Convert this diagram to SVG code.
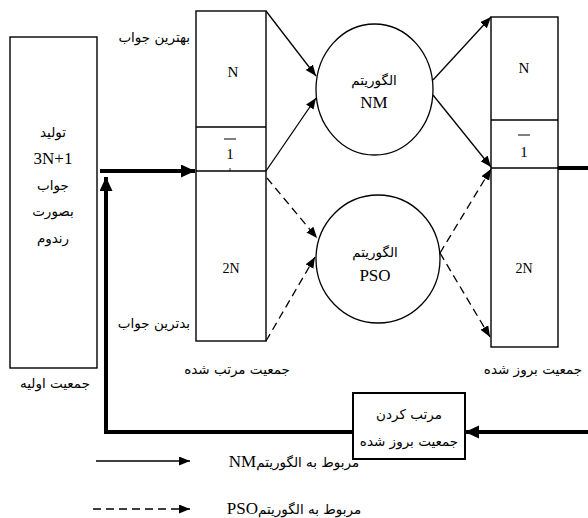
<svg xmlns="http://www.w3.org/2000/svg" width="588" height="518" viewBox="0 0 588 518">
<style>
.box{fill:#fff;stroke:#000;stroke-width:1.4}
.thin{fill:none;stroke:#000;stroke-width:1.3}
.dash{fill:none;stroke:#000;stroke-width:1.3;stroke-dasharray:8 5}
.thick{fill:none;stroke:#000;stroke-width:4}
text{fill:#000}
.lat{font-family:"Liberation Serif","Times New Roman",serif;font-size:15px}
.big{font-family:"Liberation Serif","Times New Roman",serif;font-size:17px}
.sm{font-family:"Liberation Serif","Times New Roman",serif;font-size:14px}
.ar{font-family:"DejaVu Sans",sans-serif;font-size:13.5px}
</style>
<defs>
<marker id="ah" markerUnits="userSpaceOnUse" markerWidth="12" markerHeight="10" refX="11" refY="4.5" orient="auto"><path d="M0,0 L11,4.5 L0,9 z" fill="#000"/></marker>
<marker id="ahb" markerUnits="userSpaceOnUse" markerWidth="16" markerHeight="14" refX="14" refY="6.5" orient="auto"><path d="M0,0 L14,6.5 L0,13 z" fill="#000"/></marker>
</defs>
<rect width="588" height="518" fill="#fff"/>

<g id="initial">
<rect class="box" x="10" y="37" width="87" height="331"/>
<text class="ar" x="53" y="137" text-anchor="middle">تولید</text>
<text class="big" x="53" y="164" text-anchor="middle">3N+1</text>
<text class="ar" x="53" y="190" text-anchor="middle">جواب</text>
<text class="ar" x="53" y="216" text-anchor="middle">بصورت</text>
<text class="ar" x="53" y="243" text-anchor="middle">رندوم</text>
<text class="ar" x="55" y="388" text-anchor="middle">جمعیت اولیه</text>
</g>

<g id="sorted">
<rect class="box" x="196" y="11" width="70" height="330"/>
<line class="thin" x1="196" y1="127" x2="266" y2="127"/>
<line class="thin" x1="196" y1="171" x2="266" y2="171"/>
<text class="lat" x="233" y="77" text-anchor="middle">N</text>
<line x1="224" y1="139" x2="236" y2="139" stroke="#000" stroke-width="1"/>
<text class="lat" x="230" y="159" text-anchor="middle">1</text>
<line x1="230" y1="168" x2="230" y2="171" stroke="#000" stroke-width="0.8"/>
<text class="sm" x="231" y="273" text-anchor="middle">2N</text>
<text class="ar" x="190" y="42" text-anchor="end">بهترین جواب</text>
<text class="ar" x="190" y="328" text-anchor="end">بدترین جواب</text>
<text class="ar" x="237" y="374" text-anchor="middle">جمعیت مرتب  شده</text>
</g>

<g id="nm">
<ellipse class="thin" cx="374.5" cy="89.5" rx="58.5" ry="65.5" fill="#fff"/>
<text class="ar" x="374" y="85" text-anchor="middle">الگوریتم</text>
<text class="big" x="374" y="108" text-anchor="middle">NM</text>
</g>

<g id="pso">
<ellipse class="thin" cx="378" cy="259" rx="62" ry="64" fill="#fff"/>
<text class="ar" x="375" y="257" text-anchor="middle">الگوریتم</text>
<text class="big" x="375" y="281" text-anchor="middle">PSO</text>
</g>

<g id="updated">
<rect class="box" x="491" y="17" width="67" height="330"/>
<line class="thin" x1="491" y1="120" x2="558" y2="120"/>
<line class="thin" x1="491" y1="168" x2="558" y2="168"/>
<text class="lat" x="524" y="73" text-anchor="middle">N</text>
<line x1="518" y1="135" x2="530" y2="135" stroke="#000" stroke-width="1"/>
<text class="lat" x="524" y="157" text-anchor="middle">1</text>
<text class="sm" x="524" y="273" text-anchor="middle">2N</text>
<text class="ar" x="533" y="374" text-anchor="middle">جمعیت بروز شده</text>
</g>

<g id="sortbox">
<rect x="353" y="393" width="112" height="66" fill="#fff" stroke="#000" stroke-width="2"/>
<text class="ar" x="409" y="419" text-anchor="middle">مرتب کردن</text>
<text class="ar" x="409" y="446" text-anchor="middle">جمعیت بروز شده</text>
</g>

<g id="connectors">
<path class="thick" d="M100,171 L195,171" marker-end="url(#ahb)"/>
<path class="thick" d="M353,432 L106,432 L106,177" marker-end="url(#ahb)"/>
<path class="thick" d="M558,168 L590,168"/>
<path class="thick" d="M590,432 L465,432" marker-end="url(#ahb)"/>
<path class="thin" d="M266,11 L316,76" marker-end="url(#ah)"/>
<path class="thin" d="M266,171 L316,98" marker-end="url(#ah)"/>
<path class="thin" d="M433,80 L491,17" marker-end="url(#ah)"/>
<path class="thin" d="M433,95 L491,167" marker-end="url(#ah)"/>
<path class="dash" d="M267,178 L317,238" marker-end="url(#ah)"/>
<path class="dash" d="M266,341 L315,257" marker-end="url(#ah)"/>
<path class="dash" d="M440,253 L491,169" marker-end="url(#ah)"/>
<path class="dash" d="M440,253 L490,337" marker-end="url(#ah)"/>
</g>

<g id="legend">
<path class="thin" d="M96,461 L190,461" marker-end="url(#ah)"/>
<path class="dash" d="M93,509 L190,509" marker-end="url(#ah)"/>
<text class="ar" x="294" y="467" text-anchor="middle" direction="rtl">مربوط به الگوریتم<tspan class="big">NM</tspan></text>
<text class="ar" x="294" y="514" text-anchor="middle" direction="rtl">مربوط به الگوریتم<tspan class="big">PSO</tspan></text>
</g>
</svg>
